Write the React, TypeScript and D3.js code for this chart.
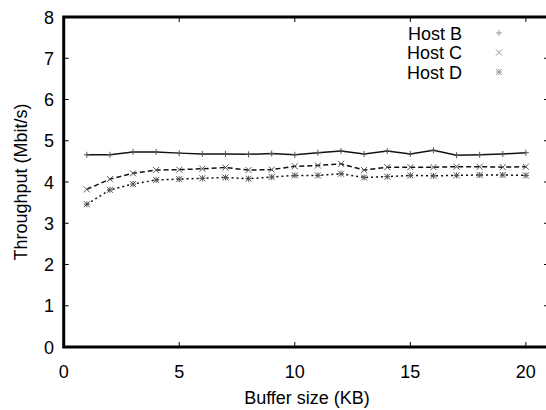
import { useEffect, useRef } from "react";
import * as d3 from "d3";

const bufferSizes = [1, 2, 3, 4, 5, 6, 7, 8, 9, 10, 11, 12, 13, 14, 15, 16, 17, 18, 19, 20];
const hostB = [4.66, 4.66, 4.73, 4.73, 4.7, 4.68, 4.68, 4.67, 4.69, 4.66, 4.71, 4.75, 4.68, 4.75, 4.68, 4.77, 4.65, 4.66, 4.68, 4.71];
const hostC = [3.82, 4.07, 4.21, 4.29, 4.3, 4.32, 4.35, 4.29, 4.3, 4.38, 4.4, 4.44, 4.29, 4.36, 4.36, 4.36, 4.37, 4.37, 4.36, 4.37];
const hostD = [3.46, 3.81, 3.95, 4.05, 4.07, 4.09, 4.11, 4.08, 4.12, 4.16, 4.16, 4.2, 4.11, 4.13, 4.16, 4.15, 4.16, 4.17, 4.17, 4.16];
const seriesNames = ["Host B", "Host C", "Host D"];
const xTicks = [0, 5, 10, 15, 20];
const yTicks = [0, 1, 2, 3, 4, 5, 6, 7, 8];

export default function App() {
  const svgRef = useRef<SVGSVGElement>(null);

  useEffect(() => {
    const width = 546;
    const height = 410;
    const svg = d3.select(svgRef.current);
    svg.selectAll("*").remove();

    const x = d3.scaleLinear().domain([0, 21]).range([63.7, 549]);
    const y = d3.scaleLinear().domain([0, 8]).range([347, 17]);
    const font = "'Liberation Sans', Arial, sans-serif";
    const fs = 18;

    svg.append("rect").attr("width", width).attr("height", height).attr("fill", "#fff");

    // ticks, mirrored on all sides
    const tickLen = 5;
    const g = svg.append("g").attr("stroke", "#000").attr("stroke-width", 1);
    xTicks.forEach((t) => {
      g.append("line").attr("x1", x(t)).attr("x2", x(t)).attr("y1", y(0)).attr("y2", y(0) - tickLen);
      g.append("line").attr("x1", x(t)).attr("x2", x(t)).attr("y1", y(8)).attr("y2", y(8) + tickLen);
    });
    yTicks.forEach((t) => {
      g.append("line").attr("x1", x(0)).attr("x2", x(0) + tickLen).attr("y1", y(t)).attr("y2", y(t));
      g.append("line").attr("x1", x(21)).attr("x2", x(21) - tickLen).attr("y1", y(t)).attr("y2", y(t));
    });

    // tick labels
    svg
      .append("g")
      .selectAll("text")
      .data(xTicks)
      .join("text")
      .attr("x", (d) => x(d))
      .attr("y", 377.5)
      .attr("text-anchor", "middle")
      .attr("font-family", font)
      .attr("font-size", fs)
      .text((d) => d);
    svg
      .append("g")
      .selectAll("text")
      .data(yTicks)
      .join("text")
      .attr("x", 54)
      .attr("y", (d) => y(d) + 6.5)
      .attr("text-anchor", "end")
      .attr("font-family", font)
      .attr("font-size", fs)
      .text((d) => d);

    svg
      .append("text")
      .attr("x", 307)
      .attr("y", 404)
      .attr("text-anchor", "middle")
      .attr("font-family", font)
      .attr("font-size", fs)
      .text("Buffer size (KB)");
    svg
      .append("text")
      .attr("transform", `translate(26.5,182) rotate(-90)`)
      .attr("text-anchor", "middle")
      .attr("font-family", font)
      .attr("font-size", fs)
      .text("Throughput (Mbit/s)");

    const all = [hostB, hostC, hostD];
    const dashes = [null, "5,3", "2,3"];
    const line = d3
      .line<number>()
      .x((_, i) => x(bufferSizes[i]))
      .y((d) => y(d));

    all.forEach((vals, k) => {
      svg
        .append("path")
        .attr("d", line(vals))
        .attr("fill", "none")
        .attr("stroke", "#111")
        .attr("stroke-width", 1.5)
        .attr("stroke-dasharray", dashes[k]);
    });

    const marker = (sel: any, k: number, cx: number, cy: number, color: string) => {
      const s = 3;
      const m = sel.append("g").attr("stroke", color).attr("stroke-width", 1);
      if (k === 0 || k === 2) {
        m.append("line").attr("x1", cx - s).attr("x2", cx + s).attr("y1", cy).attr("y2", cy);
        m.append("line").attr("x1", cx).attr("x2", cx).attr("y1", cy - s).attr("y2", cy + s);
      }
      if (k === 1 || k === 2) {
        m.append("line").attr("x1", cx - s).attr("x2", cx + s).attr("y1", cy - s).attr("y2", cy + s);
        m.append("line").attr("x1", cx - s).attr("x2", cx + s).attr("y1", cy + s).attr("y2", cy - s);
      }
    };

    all.forEach((vals, k) => {
      vals.forEach((v, i) => marker(svg, k, x(bufferSizes[i]), y(v), "#555"));
    });

    // legend
    seriesNames.forEach((name, k) => {
      const cy = 33 + k * 19.5;
      svg
        .append("text")
        .attr("x", 462)
        .attr("y", cy + 6.5)
        .attr("text-anchor", "end")
        .attr("font-family", font)
        .attr("font-size", fs)
        .text(name);
      marker(svg, k, 499, cy, "#999");
    });

    // frame
    svg
      .append("rect")
      .attr("x", x(0))
      .attr("y", y(8))
      .attr("width", x(21) - x(0))
      .attr("height", y(0) - y(8))
      .attr("fill", "none")
      .attr("stroke", "#000")
      .attr("stroke-width", 3);
  }, []);

  return (
    <svg
      ref={svgRef}
      width={546}
      height={410}
      style={{ position: "absolute", left: 0, top: 0, display: "block" }}
    ></svg>
  );
}
